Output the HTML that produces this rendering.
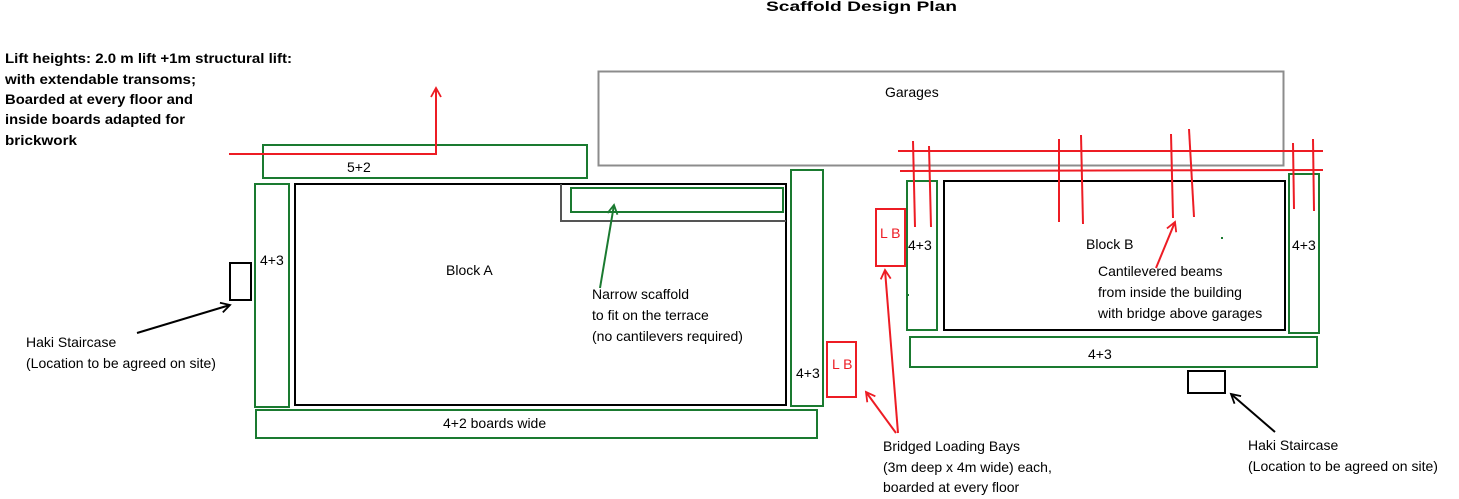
<!DOCTYPE html>
<html><head><meta charset="utf-8"><style>
html,body{margin:0;padding:0;background:#fff;}
svg{display:block;}
text{font-family:"Liberation Sans",sans-serif;font-size:14px;fill:#000;}
.b{font-weight:bold;}
</style></head><body>
<svg width="1459" height="499" viewBox="0 0 1459 499" xmlns="http://www.w3.org/2000/svg">
<defs>
<marker id="ar" markerWidth="12" markerHeight="12" refX="10" refY="6" orient="auto" markerUnits="userSpaceOnUse"><path d="M1,1 L10,6 L1,11" fill="none" stroke="#ed1c24" stroke-width="1.8"/></marker>
<marker id="ak" markerWidth="12" markerHeight="12" refX="10" refY="6" orient="auto" markerUnits="userSpaceOnUse"><path d="M1,1 L10,6 L1,11" fill="none" stroke="#000" stroke-width="1.8"/></marker>
<marker id="ag" markerWidth="12" markerHeight="12" refX="10" refY="6" orient="auto" markerUnits="userSpaceOnUse"><path d="M1,1 L10,6 L1,11" fill="none" stroke="#1a7a30" stroke-width="1.8"/></marker>
</defs>
<text class="b" x="766" y="11" font-size="17" textLength="191" lengthAdjust="spacingAndGlyphs">Scaffold Design Plan</text>
<g class="b">
<text class="b" x="5" y="63" textLength="287" lengthAdjust="spacingAndGlyphs">Lift heights: 2.0 m lift  +1m structural lift:</text>
<text class="b" x="5" y="84" textLength="191" lengthAdjust="spacingAndGlyphs">with extendable transoms;</text>
<text class="b" x="5" y="104" textLength="188" lengthAdjust="spacingAndGlyphs">Boarded at every floor and</text>
<text class="b" x="5" y="124" textLength="180" lengthAdjust="spacingAndGlyphs">inside boards adapted for</text>
<text class="b" x="5" y="145" textLength="72" lengthAdjust="spacingAndGlyphs">brickwork</text>
</g>
<g fill="none" stroke-width="2">
<rect x="598.5" y="71.5" width="685" height="94" stroke="#8c8c8c"/>
<rect x="263" y="145" width="324" height="33" stroke="#1a7a30"/>
<rect x="295" y="184" width="491" height="221" stroke="#000"/>
<polyline points="561,184 561,221 786,221" stroke="#555"/>
<rect x="571" y="188" width="212" height="24" stroke="#1a7a30"/>
<rect x="255" y="184" width="34" height="223" stroke="#1a7a30"/>
<rect x="230" y="263" width="21" height="37" stroke="#000"/>
<rect x="791" y="170" width="32" height="236" stroke="#1a7a30"/>
<rect x="827" y="342" width="29" height="55" stroke="#ed1c24"/>
<rect x="256" y="410" width="561" height="28" stroke="#1a7a30"/>
<rect x="876" y="209" width="29" height="57" stroke="#ed1c24"/>
<rect x="907" y="181" width="30" height="149" stroke="#1a7a30"/>
<rect x="944" y="181" width="341" height="149" stroke="#000"/>
<rect x="1289" y="174" width="30" height="159" stroke="#1a7a30"/>
<rect x="910" y="337" width="407" height="30" stroke="#1a7a30"/>
<rect x="1188" y="371" width="37" height="22" stroke="#000"/>
</g>
<g stroke="#ed1c24" stroke-width="2" fill="none">
<polyline points="229,154 436,154 436,88" marker-end="url(#ar)"/>
<line x1="898" y1="151" x2="1323" y2="151"/>
<line x1="900" y1="171" x2="1323" y2="170"/>
<line x1="913" y1="141" x2="915" y2="227"/>
<line x1="929" y1="146" x2="931" y2="227"/>
<line x1="1059" y1="139" x2="1059" y2="222"/>
<line x1="1081" y1="135" x2="1083" y2="224"/>
<line x1="1171" y1="134" x2="1173" y2="218"/>
<line x1="1189" y1="129" x2="1194" y2="217"/>
<line x1="1293" y1="143" x2="1294" y2="209"/>
<line x1="1313" y1="139" x2="1314" y2="211"/>
<line x1="1156" y1="268" x2="1175" y2="222" marker-end="url(#ar)"/>
<line x1="898" y1="433" x2="885" y2="270" marker-end="url(#ar)"/>
<line x1="896" y1="433" x2="866" y2="392" marker-end="url(#ar)"/>
</g>
<line x1="137" y1="333" x2="230" y2="305" stroke="#000" stroke-width="2" marker-end="url(#ak)"/>
<line x1="1275" y1="432" x2="1231" y2="394" stroke="#000" stroke-width="2" marker-end="url(#ak)"/>
<line x1="600" y1="288" x2="614" y2="205" stroke="#1a7a30" stroke-width="2" marker-end="url(#ag)"/>
<rect x="1221" y="237" width="2" height="2" fill="#1a7a30"/>
<rect x="907" y="294" width="2" height="2" fill="#1a7a30"/>
<text x="885" y="97">Garages</text>
<text x="347" y="172">5+2</text>
<text x="260" y="265">4+3</text>
<text x="446" y="275">Block A</text>
<text x="592" y="299">Narrow scaffold</text>
<text x="592" y="320">to fit on the terrace</text>
<text x="592" y="341">(no cantilevers required)</text>
<text x="26" y="347">Haki Staircase</text>
<text x="26" y="368">(Location to be agreed on site)</text>
<text x="796" y="378">4+3</text>
<text x="832" y="369" style="fill:#ed1c24">L B</text>
<text x="443" y="428">4+2 boards wide</text>
<text x="880" y="238" style="fill:#ed1c24">L B</text>
<text x="908" y="250">4+3</text>
<text x="1086" y="249">Block B</text>
<text x="1292" y="250">4+3</text>
<text x="1098" y="276">Cantilevered beams</text>
<text x="1098" y="297">from inside the building</text>
<text x="1098" y="318">with bridge above garages</text>
<text x="1088" y="359">4+3</text>
<text x="883" y="451">Bridged Loading Bays</text>
<text x="883" y="472">(3m deep x 4m wide) each,</text>
<text x="883" y="492">boarded at every floor</text>
<text x="1248" y="450">Haki Staircase</text>
<text x="1248" y="471">(Location to be agreed on site)</text>
</svg>
</body></html>
